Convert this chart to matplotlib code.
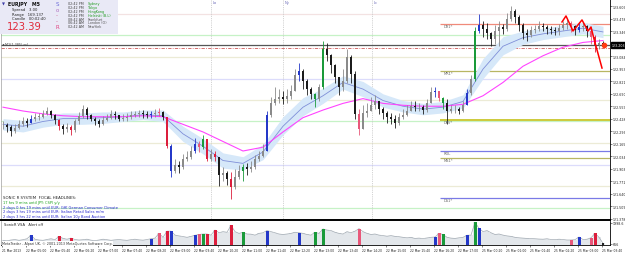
import matplotlib
matplotlib.use("Agg")
import matplotlib.pyplot as plt
from matplotlib.patches import Rectangle
import matplotlib.transforms as mtransforms

# ---------------- data (EURJPY M5) ----------------
close = [122.36, 122.34, 122.30, 122.33, 122.37, 122.41, 122.38, 122.43, 122.45, 122.45,
         122.48, 122.51, 122.47, 122.42, 122.35, 122.32, 122.34, 122.31, 122.40, 122.46,
         122.53, 122.47, 122.43, 122.41, 122.37, 122.42, 122.44, 122.48, 122.47, 122.43,
         122.44, 122.45, 122.47, 122.48, 122.49, 122.48, 122.47, 122.48, 122.49, 122.50,
         122.45, 122.14, 121.88, 121.94, 121.92, 122.01, 122.03, 122.09, 122.16, 122.13,
         122.22, 122.01, 122.06, 122.03, 121.84, 121.86, 121.80, 121.71, 121.82, 121.88,
         121.92, 121.90, 121.92, 122.01, 122.04, 122.09, 122.47, 122.59, 122.64, 122.66,
         122.64, 122.67, 122.72, 122.89, 122.93, 122.83, 122.74, 122.69, 122.64, 122.76,
         123.16, 123.10, 122.99, 122.87, 122.76, 122.83, 123.08, 122.90, 122.48, 122.32,
         122.49, 122.51, 122.57, 122.62, 122.53, 122.49, 122.45, 122.43, 122.38, 122.45,
         122.47, 122.51, 122.56, 122.55, 122.55, 122.52, 122.59, 122.71, 122.72, 122.65,
         122.59, 122.51, 122.53, 122.53, 122.51, 122.57, 122.70, 122.85, 123.35, 123.41,
         123.37, 123.33, 123.27, 123.35, 123.39, 123.37, 123.48, 123.56, 123.50, 123.41,
         123.33, 123.31, 123.36, 123.37, 123.40, 123.39, 123.37, 123.36, 123.35, 123.38,
         123.41, 123.43, 123.40, 123.36, 123.39, 123.40, 123.35, 123.29, 123.20, 123.22,
         123.21]
high = [122.41, 122.38, 122.36, 122.37, 122.42, 122.45, 122.44, 122.47, 122.49, 122.49,
        122.52, 122.55, 122.52, 122.48, 122.43, 122.37, 122.38, 122.36, 122.43, 122.50,
        122.57, 122.55, 122.48, 122.45, 122.43, 122.46, 122.48, 122.52, 122.51, 122.47,
        122.48, 122.49, 122.51, 122.51, 122.52, 122.52, 122.51, 122.51, 122.53, 122.54,
        122.51, 122.45, 122.16, 122.01, 121.99, 122.06, 122.09, 122.14, 122.23, 122.20,
        122.26, 122.22, 122.11, 122.09, 122.03, 121.92, 121.88, 121.87, 121.90, 121.94,
        121.95, 121.96, 121.99, 122.05, 122.09, 122.16, 122.51, 122.66, 122.76, 122.74,
        122.72, 122.74, 122.78, 122.95, 123.01, 122.95, 122.85, 122.76, 122.70, 122.79,
        123.25, 123.22, 123.11, 123.00, 122.87, 122.95, 123.16, 123.10, 122.93, 122.53,
        122.57, 122.59, 122.66, 122.68, 122.62, 122.55, 122.51, 122.49, 122.47, 122.49,
        122.53, 122.57, 122.62, 122.61, 122.59, 122.57, 122.64, 122.76, 122.76, 122.69,
        122.66, 122.64, 122.57, 122.57, 122.55, 122.61, 122.74, 122.89, 123.39, 123.53,
        123.46, 123.43, 123.34, 123.41, 123.46, 123.42, 123.54, 123.61, 123.58, 123.52,
        123.43, 123.37, 123.40, 123.41, 123.46, 123.43, 123.41, 123.40, 123.39, 123.42,
        123.46, 123.48, 123.46, 123.41, 123.43, 123.44, 123.41, 123.37, 123.31, 123.27,
        123.25]
low = [122.32, 122.29, 122.25, 122.28, 122.32, 122.35, 122.34, 122.38, 122.41, 122.42,
       122.44, 122.47, 122.44, 122.37, 122.31, 122.27, 122.29, 122.26, 122.29, 122.37,
       122.44, 122.43, 122.40, 122.36, 122.34, 122.36, 122.40, 122.43, 122.43, 122.40,
       122.41, 122.41, 122.43, 122.45, 122.45, 122.44, 122.44, 122.44, 122.45, 122.46,
       122.42, 122.12, 121.82, 121.86, 121.86, 121.90, 121.98, 122.01, 122.07, 122.08,
       122.11, 121.98, 121.99, 121.98, 121.72, 121.78, 121.73, 121.59, 121.69, 121.80,
       121.78, 121.84, 121.87, 121.90, 121.99, 122.03, 122.09, 122.45, 122.57, 122.59,
       122.58, 122.59, 122.64, 122.72, 122.83, 122.74, 122.68, 122.64, 122.55, 122.62,
       122.74, 123.04, 122.91, 122.80, 122.68, 122.72, 122.80, 122.80, 122.43, 122.26,
       122.32, 122.45, 122.51, 122.53, 122.48, 122.43, 122.38, 122.37, 122.33, 122.36,
       122.43, 122.46, 122.51, 122.51, 122.51, 122.48, 122.50, 122.59, 122.66, 122.62,
       122.53, 122.37, 122.49, 122.49, 122.48, 122.50, 122.57, 122.68, 122.83, 123.33,
       123.29, 123.27, 123.19, 123.21, 123.19, 123.32, 123.35, 123.46, 123.43, 123.35,
       123.27, 123.25, 123.29, 123.33, 123.35, 123.35, 123.32, 123.32, 123.31, 123.31,
       123.36, 123.37, 123.34, 123.31, 123.34, 123.35, 123.29, 123.21, 123.13, 123.16,
       123.18]
volume = [900, 870, 920, 950, 900, 940, 1000, 1220, 970, 920,
          900, 950, 1000, 940, 1150, 1020, 970, 1040, 950, 920,
          940, 970, 910, 880, 920, 970, 940, 900, 930, 950,
          920, 900, 940, 970, 930, 910, 950, 1000, 1040, 1340,
          1090, 1480, 1480, 1230, 1180, 1140, 1090, 1150, 1220, 1270,
          1300, 1300, 1230, 1550, 1380, 1450, 1410, 1850, 1450, 1340,
          1410, 1300, 1290, 1230, 1340, 1380, 1520, 1450, 1380, 1300,
          1270, 1300, 1340, 1410, 1380, 1340, 1270, 1230, 1410, 1340,
          1620, 1550, 1520, 1410, 1340, 1300, 1450, 1380, 1480, 1640,
          1450, 1340, 1270, 1300, 1230, 1200, 1160, 1200, 1150, 1130,
          1090, 1060, 1080, 1020, 1040, 1010, 1050, 1090, 1110, 1340,
          1270, 1090, 1040, 1020, 1060, 1090, 1220, 1230, 2040, 1660,
          1450, 1520, 1380, 1270, 1300, 1230, 1180, 1150, 1090, 1060,
          1040, 1020, 1010, 1000, 980, 970, 1000, 950, 940, 970,
          950, 920, 920, 940, 1110, 950, 970, 1060, 1340, 1090,
          710]
vsa_bars = [7, 14, 17, 37, 39, 41, 42, 48, 49, 50, 51, 53, 57, 60, 66, 74, 78, 80,
            89, 108, 109, 110, 116, 118, 119, 142, 144, 147, 148]
vsa_codes = ['b', 'r', 'r', 'b', 'p', 'r', 'b', 'b', 'p', 'g', 'r', 'r', 'r', 'g', 'b', 'b', 'g', 'g',
             'p', 'b', 'p', 'g', 'b', 'g', 'b', 'p', 'b', 'p', 'r']

ma_bars = [0, 5, 10, 15, 20, 25, 30, 35, 40, 45, 50, 55, 60, 65, 70, 75, 80, 85, 90, 95,
           100, 105, 110, 115, 120, 125, 130, 135, 140, 145, 150]
dragon_mid = [122.37, 122.35, 122.40, 122.43, 122.43, 122.44, 122.45, 122.47, 122.46, 122.27,
              122.14, 121.99, 121.96, 122.08, 122.35, 122.55, 122.67, 122.81, 122.74, 122.62,
              122.56, 122.53, 122.55, 122.61, 122.95, 123.19, 123.28, 123.32, 123.35, 123.38, 123.34]
dragon_hi = [122.43, 122.41, 122.46, 122.49, 122.49, 122.50, 122.50, 122.52, 122.52, 122.35,
             122.22, 122.07, 122.03, 122.16, 122.45, 122.65, 122.75, 122.88, 122.82, 122.69,
             122.62, 122.59, 122.61, 122.68, 123.06, 123.29, 123.35, 123.38, 123.41, 123.44, 123.40]
dragon_lo = [122.31, 122.29, 122.34, 122.37, 122.37, 122.38, 122.40, 122.42, 122.40, 122.19,
             122.06, 121.91, 121.89, 122.00, 122.26, 122.46, 122.59, 122.74, 122.66, 122.55,
             122.50, 122.47, 122.49, 122.54, 122.85, 123.10, 123.21, 123.26, 123.29, 123.32, 123.28]
ema89 = [122.55, 122.51, 122.48, 122.46, 122.45, 122.45, 122.45, 122.46, 122.45, 122.37,
         122.29, 122.19, 122.09, 122.13, 122.29, 122.44, 122.52, 122.59, 122.64, 122.59,
         122.57, 122.56, 122.56, 122.58, 122.67, 122.81, 122.98, 123.09, 123.18, 123.23, 123.25]

zigzag_bars = [139.75, 140.75, 142.5, 144.75, 146.25, 147.0, 147.75, 149.75]
zigzag_price = [123.445, 123.508, 123.350, 123.466, 123.350, 123.392, 123.266, 122.961]

current_price = 123.203
marker_price = 123.203

grid_levels = [123.53, 123.31, 123.08, 122.85, 122.63, 122.40, 122.17, 121.94, 121.72, 121.49]
grid_colors = ['#f3e2e2', '#c6f2c6', '#ecebd6', '#dcdcfb', '#ecebd6', '#c6f2c6', '#ecebd6',
               '#dcdcfb', '#ecebd6', '#c6f2c6']
dashdot_level = 123.17

pivot_names = ['DR1*', 'MR1*', 'DPV*', 'RDL', 'MS1*', 'DS1*']
pivot_levels = [123.42, 122.93, 122.42, 122.09, 122.02, 121.60]
pivot_colors = ['#f08a7a', '#b8b663', '#c9c62c', '#7a7ae6', '#b8b663', '#7a7ae6']
pivot_start_bar = 109.25

session_bars = [52.0, 70.0, 92.25]
session_labels = ['Lo', 'Ny', 'Lc']

price_ticks = [123.609, 123.478, 123.346, 123.215, 123.084, 122.953, 122.821, 122.690, 122.559,
               122.428, 122.296, 122.165, 122.034, 121.903, 121.771, 121.640, 121.509, 121.378]
price_tick_labels = ['123.609', '123.478', '123.346', '123.215', '123.084', '122.953', '122.821',
                     '122.690', '122.559', '122.428', '122.296', '122.165', '122.034', '121.903',
                     '121.771', '121.640', '121.509', '121.378']
vol_ticks = [1998.6, 666.0]
vol_tick_labels = ['1998.6', '666']
time_labels = ['21 Mar 2013', '22 Mar 05:00', '22 Mar 05:40', '22 Mar 06:20', '22 Mar 07:00',
               '22 Mar 07:40', '22 Mar 08:20', '22 Mar 09:00', '22 Mar 09:40', '22 Mar 10:20',
               '22 Mar 11:00', '22 Mar 11:40', '22 Mar 12:20', '22 Mar 13:00', '22 Mar 13:40',
               '22 Mar 14:20', '22 Mar 15:00', '22 Mar 15:40', '22 Mar 16:20', '22 Mar 17:00',
               '25 Mar 00:20', '25 Mar 01:00', '25 Mar 01:40', '25 Mar 02:20', '25 Mar 03:00',
               '25 Mar 03:40']

session_names = ['Sydney', 'Tokyo', 'HongKong', 'Helsinki (B.L)', 'Frankfurt', 'London (O)', 'NewYork']
session_times = ['02:42 PM', '02:42 PM', '02:42 PM', '02:42 PM', '08:42 AM', '06:42 AM', '02:42 AM']
session_open = [True, True, True, True, False, False, False]

headlines = ['17 hrs 9 mins until JPY: CSPI y/y',
             '2 days 0 hrs 19 mins until EUR: GfK German Consumer Climate',
             '2 days 3 hrs 19 mins until EUR: Italian Retail Sales m/m',
             '2 days 3 hrs 22 mins until EUR: Italian 10y Bond Auction']
headline_colors = ['#18a018', '#2828d0', '#2828d0', '#2828d0']

# ---------------- figure ----------------
W, H = 625.0, 255.0
plt.rcParams['font.family'] = ['DejaVu Sans']
fig = plt.figure(figsize=(6.25, 2.55), dpi=100)
fig.patch.set_facecolor('white')

def fx(px):
    return px / W

def fy(py):
    return 1.0 - py / H

ax = fig.add_axes([fx(1), fy(221), 609 / W, 221 / H])
axv = fig.add_axes([fx(1), fy(246), 609 / W, 24 / H])

XMIN, XMAX = -0.5, 151.75
ax.set_xlim(XMIN, XMAX)
ax.set_ylim(121.3655, 123.686)
axv.set_xlim(XMIN, XMAX)
axv.set_ylim(602.6, 2124.0)

vsa_palette = {'r': '#dc1e3c', 'p': '#e8587a', 'b': '#2438c8', 'g': '#1a9a3a'}
color_of = {b: vsa_palette[c] for b, c in zip(vsa_bars, vsa_codes)}

# grid / level lines
for lv, col in zip(grid_levels, grid_colors):
    ax.axhline(lv, color=col, lw=0.9, zorder=1)
ax.axhline(current_price, color='#555555', lw=0.9, zorder=1.5)
ax.axhline(dashdot_level, color='#d05a5a', lw=0.6, ls=(0, (4, 1.5, 1, 1.5)), zorder=1.5)
for lv, col, nm in zip(pivot_levels, pivot_colors, pivot_names):
    lw = 1.3 if nm == 'DPV*' else 0.9
    ax.hlines(lv, pivot_start_bar, XMAX, color=col, lw=lw, zorder=1.6)
    ax.text(pivot_start_bar + 0.8, lv, nm, fontsize=2.6, color='#666666',
            va='top', ha='left', zorder=6)
for sb, sl in zip(session_bars, session_labels):
    ax.axvline(sb, color='#c4c4c4', lw=0.6, ls=(0, (1, 1.2)), zorder=1.2)
    ax.text(sb + 0.4, 123.655, sl, fontsize=2.6, color='#6a6ab8', va='center', ha='left', zorder=6)

# dragon band and MAs
ax.fill_between(ma_bars, dragon_lo, dragon_hi, color='#d6e8f9', lw=0, zorder=2)
ax.plot(ma_bars, dragon_mid, color='#7f8fd8', lw=0.6, zorder=3)
ax.plot(ma_bars, ema89, color='#ff44ff', lw=0.8, zorder=3)

# candles
opens = [close[0]] + close[:-1]
for i, (o, h, l, c) in enumerate(zip(opens, high, low, close)):
    if i in color_of:
        col = color_of[i]
    elif c >= o:
        col = '#8a8a8a'
    else:
        col = '#1c1c1c'
    top = max(h, o, c)
    bot = min(l, o, c)
    ax.vlines(i, bot, top, color=col, lw=0.6, zorder=4)
    body = max(abs(c - o), 0.005)
    ax.bar(i, body, bottom=min(o, c), width=0.7, color=col, lw=0, zorder=4.2)

# zigzag and marker
ax.plot(zigzag_bars, zigzag_price, color='#ff0000', lw=1.1, zorder=5)
ax.plot([len(close) - 1 + 0.2], [marker_price], 'o', color='#ff3a14', ms=3.0, mec='#ff3a14', zorder=5.5)

# volume panel
xs = list(range(len(volume)))
axv.bar(xs, volume, width=1.0, color='#e3e7eb', lw=0, zorder=1)
axv.plot(xs, volume, color='#a3abb3', lw=0.5, zorder=2)
cb = [b for b in vsa_bars]
axv.bar(cb, [volume[b] for b in cb], width=0.75, color=[color_of[b] for b in cb], lw=0, zorder=3)
axv.bar([len(volume) - 1], [volume[-1]], width=0.6, color='#222222', lw=0, zorder=3)

# axes styling
for a in (ax, axv):
    a.set_facecolor('white')
    a.yaxis.tick_right()
    a.tick_params(axis='y', which='both', length=1.2, width=0.4, pad=0.6, labelsize=2.3,
                  colors='#222222')
    a.spines['left'].set_color('#a0a0a0')
    a.spines['left'].set_linewidth(0.5)
    a.spines['right'].set_color('#000000')
    a.spines['right'].set_linewidth(0.6)
ax.spines['top'].set_color('#a0a0a0')
ax.spines['top'].set_linewidth(0.5)
ax.spines['bottom'].set_color('#000000')
ax.spines['bottom'].set_linewidth(1.4)
axv.spines['top'].set_visible(False)
axv.spines['bottom'].set_color('#000000')
axv.spines['bottom'].set_linewidth(0.6)

ax.set_yticks(price_ticks)
ax.set_yticklabels(price_tick_labels)
ax.set_xticks([])
axv.set_yticks(vol_ticks)
axv.set_yticklabels(vol_tick_labels)
tick_pos = [6 * k - 0.25 for k in range(len(time_labels))]
axv.set_xticks(tick_pos)
axv.set_xticklabels(time_labels, ha='left')
axv.tick_params(axis='x', length=1.5, width=0.4, pad=0.8, labelsize=2.15, colors='#222222')

# current price box
trans = mtransforms.blended_transform_factory(ax.transAxes, ax.transData)
ax.text(1.003, current_price, f'{current_price:.3f}', transform=trans, fontsize=2.3,
        color='white', va='center', ha='left', zorder=10, clip_on=False,
        bbox=dict(facecolor='black', edgecolor='black', pad=0.5))

# info panel (top-left)
fig.add_artist(Rectangle((0, fy(35)), fx(118), 35 / H, transform=fig.transFigure,
                         facecolor='#e9e9f6', edgecolor='none', zorder=8))
fig.text(fx(2), fy(4.5), '\u25bc', fontsize=2.8, color='#3a3aa8', va='center', zorder=9)
fig.text(fx(8), fy(4.5), 'EURJPY   M5', fontsize=3.4, color='#111111', va='center',
         fontweight='bold', zorder=9)
fig.text(fx(12), fy(10.5), 'Spread   3.00', fontsize=2.7, color='#222222', va='center', zorder=9)
fig.text(fx(12), fy(15), 'Range   169.137', fontsize=2.7, color='#222222', va='center', zorder=9)
fig.text(fx(12), fy(19.5), 'Candle   00:02:40', fontsize=2.7, color='#222222', va='center', zorder=9)
fig.text(fx(7), fy(27.5), '123.39', fontsize=7.2, color='#e0283a', va='center', zorder=9)
for k, (ch, col) in enumerate(zip(['S', 'o', '-', '-', 'R'],
                                  ['#6a6ad8', '#b070c0', '#d06090', '#d06090', '#e04080'])):
    fig.text(fx(57), fy(5 + 5.6 * k), ch, fontsize=4.0, color=col, va='center', ha='center', zorder=9)
for k, (nm, tm, op) in enumerate(zip(session_names, session_times, session_open)):
    yy = fy(4 + 3.9 * k)
    fig.text(fx(68), yy, tm, fontsize=2.4, color='#444444', va='center', zorder=9)
    fig.text(fx(88), yy, nm, fontsize=2.4, color='#1c9a1c' if op else '#555555', va='center', zorder=9)

fig.text(fx(2), fy(45.5), '\u2666M1(1.385) ml', fontsize=2.4, color='#444444', va='center', zorder=9)

# headlines
fig.text(fx(3), fy(198), 'SONIC R SYSTEM  FOCAL HEADLINES:', fontsize=2.8, color='#222222',
         va='center', zorder=9)
for k, (txt, col) in enumerate(zip(headlines, headline_colors)):
    fig.text(fx(3), fy(203 + 4.6 * k), txt, fontsize=2.6, color=col, va='center', zorder=9)

fig.text(fx(4), fy(225.5), 'SonicR VSA   Alert off', fontsize=2.6, color='#222222',
         va='center', zorder=9)
fig.text(fx(2), fy(244.5), 'MetaTrader - Alpari UK, \u00a9 2001-2013 MetaQuotes Software Corp.',
         fontsize=2.4, color='#333333', va='center', zorder=9,
         bbox=dict(facecolor='white', edgecolor='none', pad=0.3))

fig.savefig('out.png', dpi=100)
